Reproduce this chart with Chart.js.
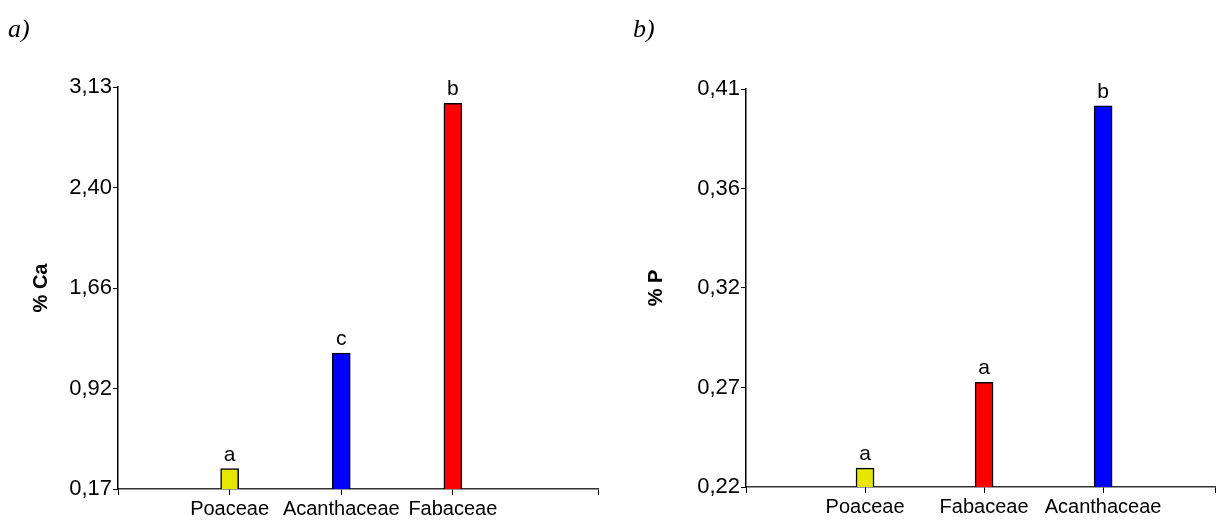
<!DOCTYPE html>
<html>
<head>
<meta charset="utf-8">
<script src="https://cdn.jsdelivr.net/npm/chart.js@4.4.1/dist/chart.umd.min.js"></script>
<style>
    body { margin: 0; background: #fff; width: 1230px; height: 521px; position: relative; overflow: hidden; }
    .panel { position: absolute; top: 0; width: 615px; height: 521px; }
    .tag { position: absolute; top: 14px; font: italic 26px "Liberation Serif", serif; color: #000; }
</style>
</head>
<body>
<div class="panel" style="left:0"><canvas id="chartCa" width="615" height="521"></canvas></div>
<div class="panel" style="left:615px"><canvas id="chartP" width="615" height="521"></canvas></div>
<div class="tag" style="left:8px">a)</div>
<div class="tag" style="left:633px">b)</div>

<script>
// Panel a) calcium
const caCategories = ['Poaceae', 'Acanthaceae', 'Fabaceae'];
const caValues = [0.32, 1.17, 3.01];
const caLetters = ['a', 'c', 'b'];
const caColors = ['#e6e600', '#0000ff', '#ff0000'];
const caTickLabels = ['0,17', '0,92', '1,66', '2,40', '3,13'];
const caMin = 0.17, caMax = 3.13;

// Panel b) phosphorus
const pCategories = ['Poaceae', 'Fabaceae', 'Acanthaceae'];
const pValues = [0.229, 0.270, 0.402];
const pLetters = ['a', 'a', 'b'];
const pColors = ['#e6e600', '#ff0000', '#0000ff'];
const pTickLabels = ['0,22', '0,27', '0,32', '0,36', '0,41'];
const pMin = 0.22, pMax = 0.41;

const tickFont = { family: '"Liberation Sans", Arial, sans-serif', size: 22 };
const catFont = { family: '"Liberation Sans", Arial, sans-serif', size: 20 };

// letters above the bars
const letterPlugin = {
    id: 'letters',
    afterDatasetsDraw(chart, args, opts) {
        const ctx = chart.ctx;
        const meta = chart.getDatasetMeta(0);
        ctx.save();
        ctx.font = '21px "Liberation Sans", Arial, sans-serif';
        ctx.fillStyle = '#000';
        ctx.textAlign = 'center';
        ctx.textBaseline = 'alphabetic';
        meta.data.forEach((bar, i) => {
            ctx.fillText(opts.labels[i], bar.x, bar.y - 8);
        });
        ctx.restore();
    }
};

function makeChart(id, cfg) {
    const data = cfg.values.map((v, i) => ({ x: i + 1, y: v }));
    return new Chart(document.getElementById(id), {
        type: 'bar',
        data: {
            datasets: [{
                data: data,
                backgroundColor: cfg.colors,
                borderColor: '#000',
                borderWidth: 1.5,
                borderSkipped: false,
                barThickness: 18
            }]
        },
        plugins: [letterPlugin],
        options: {
            responsive: false,
            animation: false,
            layout: { padding: { top: cfg.top, right: cfg.right, left: 0, bottom: 0 } },
            plugins: {
                legend: { display: false },
                tooltip: { enabled: false },
                letters: { labels: cfg.letters }
            },
            scales: {
                x: {
                    type: 'linear',
                    min: 0,
                    max: cfg.xMax,
                    offset: false,
                    afterBuildTicks: (scale) => {
                        scale.ticks = [0, 1, 2, 3, cfg.xMax].map(v => ({ value: v }));
                    },
                    afterFit: (scale) => { scale.height = cfg.xHeight; },
                    grid: { offset: false, drawOnChartArea: false, drawTicks: true, tickLength: 6, color: '#000', lineWidth: 1 },
                    border: { display: true, color: '#333', width: 1.5 },
                    ticks: {
                        autoSkip: false,
                        maxRotation: 0,
                        padding: 2,
                        color: '#000',
                        font: catFont,
                        callback: (value) => cfg.categories[value - 1] || ''
                    }
                },
                y: {
                    min: cfg.yMin,
                    max: cfg.yMax,
                    afterBuildTicks: (scale) => {
                        const step = (cfg.yMax - cfg.yMin) / (cfg.tickLabels.length - 1);
                        scale.ticks = cfg.tickLabels.map((l, i) => ({ value: cfg.yMin + i * step }));
                    },
                    afterFit: (scale) => { scale.width = cfg.yWidth; },
                    grid: { drawOnChartArea: false, drawTicks: true, tickLength: 5, color: '#000', lineWidth: 1 },
                    border: { display: true, color: '#000', width: 1.5 },
                    ticks: {
                        padding: 1,
                        color: '#000',
                        font: tickFont,
                        callback: (value, index) => cfg.tickLabels[index]
                    },
                    title: {
                        display: true,
                        text: cfg.title,
                        color: '#000',
                        font: { family: '"Liberation Sans", Arial, sans-serif', size: 20, weight: 'bold' },
                        padding: { top: cfg.titlePad, bottom: 0 }
                    }
                }
            }
        }
    });
}

makeChart('chartCa', {
    categories: caCategories, values: caValues, letters: caLetters, colors: caColors,
    tickLabels: caTickLabels, yMin: caMin, yMax: caMax, title: '% Ca',
    xMax: 4.3, yWidth: 118, xHeight: 32, top: 87, right: 17, titlePad: 29
});

makeChart('chartP', {
    categories: pCategories, values: pValues, letters: pLetters, colors: pColors,
    tickLabels: pTickLabels, yMin: pMin, yMax: pMax, title: '% P',
    xMax: 3.94, yWidth: 131, xHeight: 34, top: 89, right: 15, titlePad: 29
});
</script>
</body>
</html>
